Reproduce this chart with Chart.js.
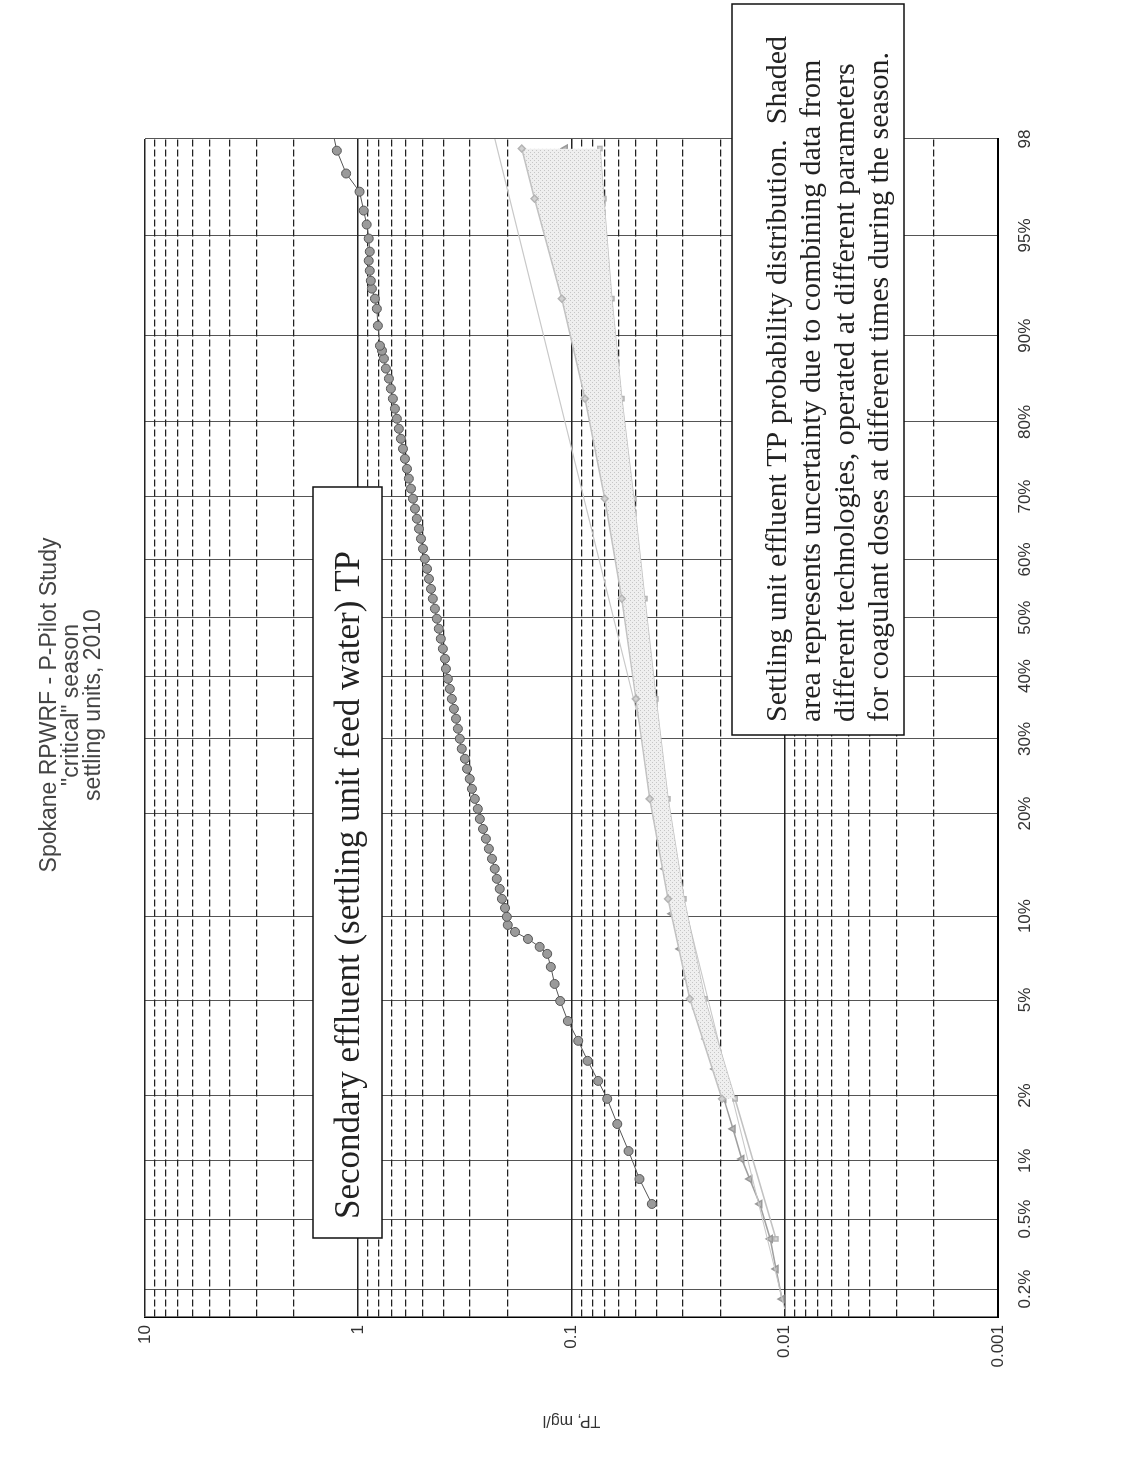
<!DOCTYPE html>
<html>
<head>
<meta charset="utf-8">
<script src="https://cdn.jsdelivr.net/npm/chart.js@4.4.0/dist/chart.umd.min.js"></script>
<style>
    html, body { margin: 0; padding: 0; background: #fff; overflow: hidden; }
    /* the scanned page is turned a quarter turn, so the chart is drawn upright and rotated */
    #wrap {
        position: absolute; left: 0; top: 0;
        width: 1463px; height: 1130px;
        transform-origin: 0 0;
        transform: translate(0, 1463px) rotate(-90deg);
    }
</style>
</head>
<body>
<div id="wrap"><canvas id="myChart" width="1463" height="1130"></canvas></div>
<script>
// probability axis: z-score positions of the percentile grid lines and their labels
const percentZ = [-2.88, -2.58, -2.33, -2.05, -1.64, -1.28, -0.84, -0.52, -0.25, 0, 0.25, 0.52, 0.84, 1.21, 1.64, 2.054];
const percentLabels = ['0.2%', '0.5%', '1%', '2%', '5%', '10%', '20%', '30%', '40%', '50%', '60%', '70%', '80%', '90%', '95%', '98'];

// TP axis decades
const tpDecades = [0.001, 0.01, 0.1, 1, 10];
const tpLabels = ['0.001', '0.01', '0.1', '1', '10'];

// Secondary effluent (settling unit feed water) TP
const secZ = [-2.515, -2.408, -2.288, -2.172, -2.064, -1.987, -1.901, -1.815, -1.730, -1.644, -1.571, -1.498, -1.442,
    -1.412, -1.378, -1.348, -1.318,
    -1.283, -1.245, -1.206, -1.163, -1.120, -1.077, -1.034, -0.991, -0.948, -0.906, -0.863, -0.820, -0.777, -0.734,
    -0.691, -0.648, -0.605, -0.562, -0.519, -0.476, -0.433, -0.391, -0.348, -0.305, -0.262, -0.219, -0.176, -0.133,
    -0.090, -0.047, -0.004, 0.039, 0.082, 0.124, 0.167, 0.210, 0.253, 0.296, 0.339, 0.382, 0.425, 0.468, 0.511,
    0.554, 0.597, 0.639, 0.682, 0.725, 0.768, 0.811, 0.854, 0.897, 0.940, 0.983, 1.026, 1.069, 1.112, 1.146,
    1.167, 1.253, 1.326, 1.369, 1.412, 1.446, 1.489, 1.532, 1.571, 1.627, 1.687, 1.747, 1.828, 1.906, 2.004, 2.103];
const secTP = [0.042, 0.048, 0.054, 0.061, 0.068, 0.075, 0.084, 0.093, 0.104, 0.113, 0.120, 0.125, 0.130,
    0.141, 0.160, 0.184, 0.199,
    0.201, 0.205, 0.212, 0.217, 0.224, 0.229, 0.236, 0.244, 0.252, 0.260, 0.269, 0.275, 0.284, 0.293,
    0.300, 0.309, 0.316, 0.327, 0.334, 0.341, 0.348, 0.356, 0.364, 0.372, 0.380, 0.388, 0.392, 0.401,
    0.410, 0.419, 0.428, 0.437, 0.447, 0.456, 0.466, 0.476, 0.487, 0.497, 0.508, 0.519, 0.531, 0.542, 0.554,
    0.566, 0.579, 0.591, 0.604, 0.617, 0.631, 0.645, 0.659, 0.673, 0.688, 0.703, 0.718, 0.742, 0.758, 0.774,
    0.791, 0.809, 0.818, 0.835, 0.863, 0.873, 0.883, 0.893, 0.883, 0.893, 0.913, 0.943, 0.986, 1.14, 1.26, 1.33];

// Settling unit effluent TP, middle series
const setZ = [-2.923, -2.794, -2.665, -2.515, -2.408, -2.322, -2.193, -2.064, -1.936, -1.807, -1.678, -1.549, -1.421,
    -1.270, -1.077, -0.863, -0.605, -0.305, 0, 0.296, 0.597, 0.897, 1.197, 1.498, 1.798, 2.013];
const setTP = [0.0103, 0.0110, 0.0117, 0.0131, 0.0146, 0.0159, 0.0175, 0.0193, 0.0213, 0.0234, 0.0258, 0.0284, 0.0310,
    0.0338, 0.0365, 0.0394, 0.0429, 0.0468, 0.0509, 0.0556, 0.0606, 0.0660, 0.0736, 0.0838, 0.0964, 0.107];

// Settling unit effluent TP, upper and lower series bounding the shaded area
const upZ = [-2.064, -1.635, -1.206, -0.777, -0.348, 0.082, 0.511, 0.940, 1.369, 1.798, 2.013];
const upTP = [0.0197, 0.0279, 0.0353, 0.0430, 0.0499, 0.0581, 0.0698, 0.0865, 0.111, 0.149, 0.171];
const lowZ = [-2.665, -2.064, -1.635, -1.206, -0.777, -0.348, 0.082, 0.511, 0.940, 1.369, 1.798, 2.013];
const lowTP = [0.0110, 0.0171, 0.0237, 0.0297, 0.0353, 0.0402, 0.0453, 0.0510, 0.0581, 0.0647, 0.0705, 0.0736];

// straight distribution fit drawn across the settling data
const fitZ = [-2.966, 2.056];
const fitTP = [0.0100, 0.229];

const toPoints = (xs, ys) => xs.map((x, i) => ({ x: x, y: ys[i] }));
const isDecade = v => tpDecades.some(d => Math.abs(v / d - 1) < 1e-6);

// light stippled grey like the printed shading
function stipple() {
    const c = document.createElement('canvas');
    c.width = 4; c.height = 4;
    const g = c.getContext('2d');
    g.fillStyle = '#efefef';
    g.fillRect(0, 0, 4, 4);
    g.fillStyle = '#c6c6c6';
    g.fillRect(0, 0, 1, 1);
    g.fillRect(2, 2, 1, 1);
    return document.getElementById('myChart').getContext('2d').createPattern(c, 'repeat');
}

// title and the two text boxes of the page
const notesPlugin = {
    id: 'notes',
    afterDraw(chart) {
        const ctx = chart.ctx;
        ctx.save();
        ctx.fillStyle = '#444';
        ctx.font = '23px "Liberation Sans", Arial, sans-serif';
        ctx.textAlign = 'center';
        ctx.textBaseline = 'middle';
        ctx.fillText('Spokane RPWRF - P-Pilot Study', 758, 50);
        ctx.fillText('"critical" season', 758, 72);
        ctx.fillText('settling units, 2010', 758, 94);

        ctx.fillStyle = '#fff';
        ctx.strokeStyle = '#111';
        ctx.lineWidth = 1.5;
        ctx.fillRect(225, 313, 751, 69);
        ctx.strokeRect(225, 313, 751, 69);
        ctx.fillRect(728, 732, 731, 172);
        ctx.strokeRect(728, 732, 731, 172);

        ctx.fillStyle = '#222';
        ctx.textAlign = 'left';
        ctx.font = '35px "Liberation Serif", "Times New Roman", serif';
        ctx.fillText('Secondary effluent (settling unit feed water) TP', 244, 350);
        ctx.font = '30px "Liberation Serif", "Times New Roman", serif';
        const lines = [
            'Settling unit effluent TP probability distribution.  Shaded',
            'area represents uncertainty due to combining data from',
            'different technologies, operated at different parameters',
            'for coagulant doses at different times during the season.'
        ];
        lines.forEach((t, i) => ctx.fillText(t, 741, 778 + i * 34));
        ctx.restore();
    }
};

const ctx = document.getElementById('myChart').getContext('2d');
window.myChart = new Chart(ctx, {
    type: 'line',
    data: {
        datasets: [
            {
                label: 'upper series',
                data: toPoints(upZ, upTP),
                borderColor: '#c2c2c2',
                borderWidth: 1.5,
                pointStyle: 'rectRot',
                pointRadius: 3.5,
                pointBackgroundColor: '#d2d2d2',
                pointBorderColor: '#b4b4b4',
                fill: 1,
                backgroundColor: stipple()
            },
            {
                label: 'lower series',
                data: toPoints(lowZ, lowTP),
                borderColor: '#c2c2c2',
                borderWidth: 1.5,
                pointStyle: 'rect',
                pointRadius: 3,
                pointBackgroundColor: '#d2d2d2',
                pointBorderColor: '#b4b4b4',
                fill: false
            },
            {
                label: 'fit',
                data: toPoints(fitZ, fitTP),
                borderColor: '#c8c8c8',
                borderWidth: 1.2,
                pointRadius: 0,
                fill: false
            },
            {
                label: 'Settling unit effluent TP',
                data: toPoints(setZ, setTP),
                borderColor: '#a0a0a0',
                borderWidth: 1.5,
                pointStyle: 'triangle',
                pointRadius: 4,
                pointBackgroundColor: '#b8b8b8',
                pointBorderColor: '#999',
                fill: false
            },
            {
                label: 'Secondary effluent TP',
                data: toPoints(secZ, secTP),
                borderColor: '#555',
                borderWidth: 1,
                pointStyle: 'circle',
                pointRadius: 4.5,
                pointBackgroundColor: '#9a9a9a',
                pointBorderColor: '#555',
                pointBorderWidth: 1,
                fill: false
            }
        ]
    },
    options: {
        responsive: false,
        devicePixelRatio: 1,
        animation: false,
        layout: { padding: { left: 0, right: 139, top: 145, bottom: 0 } },
        plugins: {
            legend: { display: false },
            tooltip: { enabled: false },
            title: { display: false }
        },
        scales: {
            x: {
                type: 'linear',
                min: -3,
                max: 2.054,
                afterBuildTicks: scale => { scale.ticks = percentZ.map(v => ({ value: v })); },
                afterFit: scale => { scale.height = 132; },
                ticks: {
                    autoSkip: false,
                    maxRotation: 0,
                    padding: 17,
                    color: '#333',
                    font: { family: '"Liberation Sans", Arial, sans-serif', size: 17 },
                    callback: (value, index) => percentLabels[index]
                },
                grid: { color: '#555', lineWidth: 1, drawTicks: false },
                border: { display: true, color: '#000', width: 2 }
            },
            y: {
                type: 'logarithmic',
                min: 0.001,
                max: 10,
                afterBuildTicks: scale => {
                    const t = [];
                    tpDecades.slice(0, 4).forEach(d => {
                        for (let m = 1; m <= 9; m++) t.push({ value: d * m });
                    });
                    t.push({ value: 10 });
                    scale.ticks = t;
                },
                afterFit: scale => { scale.width = 146; },
                ticks: {
                    autoSkip: false,
                    padding: 8,
                    color: '#333',
                    font: { family: '"Liberation Sans", Arial, sans-serif', size: 17 },
                    callback: value => {
                        const i = tpDecades.findIndex(d => Math.abs(value / d - 1) < 1e-6);
                        return i >= 0 ? tpLabels[i] : '';
                    }
                },
                grid: {
                    drawTicks: false,
                    color: '#222',
                    lineWidth: c => (c.tick && isDecade(c.tick.value)) ? 1.6 : 1.2
                },
                border: {
                    display: true,
                    color: '#000',
                    width: 1.5,
                    dash: c => (c.tick && !isDecade(c.tick.value)) ? [7, 3] : []
                },
                title: {
                    display: true,
                    text: 'TP, mg/l',
                    color: '#333',
                    padding: { top: 33 },
                    font: { family: '"Liberation Sans", Arial, sans-serif', size: 16 }
                }
            }
        }
    },
    plugins: [notesPlugin]
});
</script>
</body>
</html>
